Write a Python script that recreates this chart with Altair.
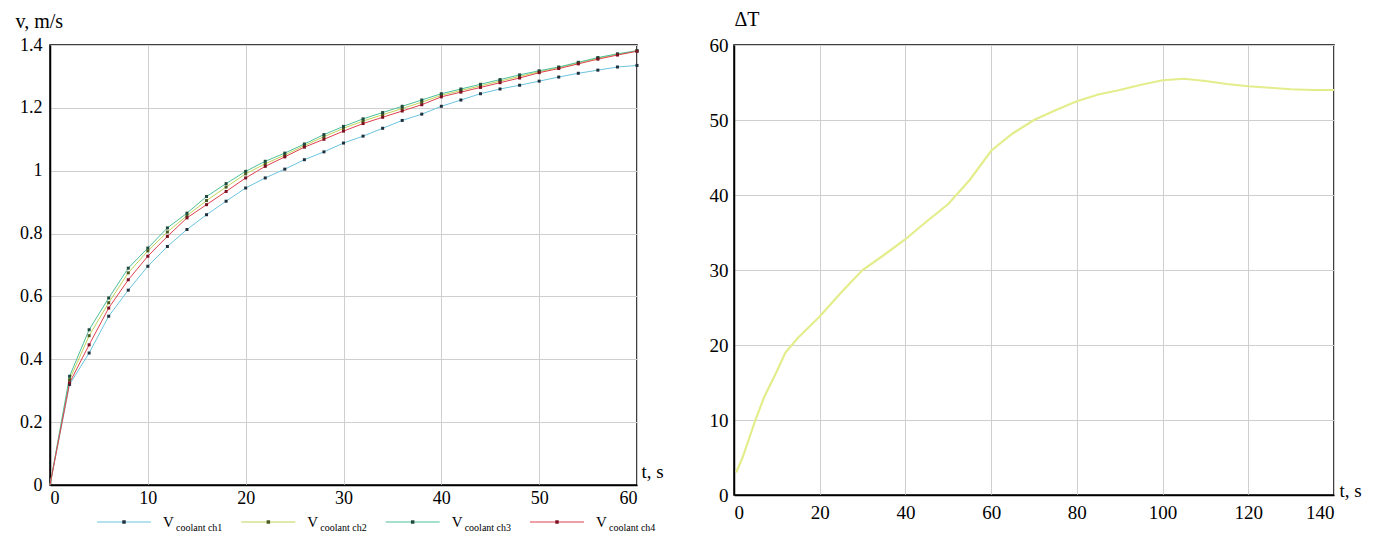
import altair as alt
import pandas as pd

# ---------------- data: left panel (coolant velocity) ----------------
t_v = [0, 2, 4, 6, 8, 10, 12, 14, 16, 18, 20, 22, 24, 26, 28, 30,
       32, 34, 36, 38, 40, 42, 44, 46, 48, 50, 52, 54, 56, 58, 60]
v_ch1 = [0, 0.320, 0.420, 0.537, 0.620, 0.696, 0.759, 0.813, 0.860, 0.903, 0.945,
         0.977, 1.005, 1.035, 1.060, 1.088, 1.110, 1.135, 1.160, 1.180, 1.205,
         1.225, 1.245, 1.260, 1.272, 1.285, 1.298, 1.310, 1.320, 1.330, 1.335]
v_ch2 = [0, 0.335, 0.475, 0.580, 0.675, 0.745, 0.805, 0.857, 0.905, 0.948, 0.990,
         1.022, 1.050, 1.080, 1.108, 1.135, 1.158, 1.178, 1.198, 1.218, 1.240,
         1.255, 1.270, 1.285, 1.300, 1.315, 1.328, 1.343, 1.358, 1.370, 1.381]
v_ch3 = [0, 0.346, 0.494, 0.595, 0.690, 0.754, 0.818, 0.865, 0.918, 0.959, 0.998,
         1.030, 1.056, 1.085, 1.115, 1.141, 1.165, 1.185, 1.205, 1.225, 1.245,
         1.260, 1.275, 1.290, 1.305, 1.318, 1.330, 1.345, 1.360, 1.372, 1.382]
v_ch4 = [0, 0.325, 0.446, 0.563, 0.653, 0.728, 0.791, 0.850, 0.892, 0.934, 0.977,
         1.014, 1.044, 1.075, 1.100, 1.126, 1.150, 1.170, 1.190, 1.210, 1.235,
         1.250, 1.265, 1.280, 1.295, 1.312, 1.325, 1.340, 1.355, 1.368, 1.380]
series_names = ["V coolant ch1", "V coolant ch2", "V coolant ch3", "V coolant ch4"]
series_sub = ["coolant ch1", "coolant ch2", "coolant ch3", "coolant ch4"]
line_colors = ["#6cc4de", "#c2d35a", "#4dbf9c", "#e0404f"]
marker_colors = ["#1f2f3c", "#4a5a20", "#1f4a3c", "#7a1020"]
marker_sizes = [9, 9, 9, 18]

x_left_major = [0, 10, 20, 30, 40, 50, 60]
y_left_major = [0, 0.2, 0.4, 0.6, 0.8, 1.0, 1.2, 1.4]

# ---------------- data: right panel (temperature difference) ----------------
t_dT = [0.5, 2, 5, 7, 10, 12, 15, 20, 25, 30, 35, 40, 45, 50, 55, 60, 65, 70,
        75, 80, 85, 90, 95, 100, 105, 110, 115, 120, 125, 130, 135, 140]
dT = [3.0, 5.0, 10.0, 13.0, 16.5, 19.0, 21.0, 23.8, 27.0, 30.0, 32.0, 34.1,
      36.5, 38.8, 42.0, 45.9, 48.2, 50.0, 51.3, 52.5, 53.4, 54.0, 54.7, 55.3,
      55.5, 55.2, 54.8, 54.5, 54.3, 54.1, 54.0, 54.0]
x_right_major = [0, 20, 40, 60, 80, 100, 120, 140]
y_right_major = [0, 10, 20, 30, 40, 50, 60]

FONT = "Liberation Serif"

# ---------------- left panel ----------------
W1, H1 = 587, 440
rows = []
for name, vals in zip(series_names, [v_ch1, v_ch2, v_ch3, v_ch4]):
    for t, v in zip(t_v, vals):
        rows.append({"t": t, "v": v, "series": name})
df_v = pd.DataFrame(rows)

xs1 = alt.Scale(domain=[0, 60], nice=False, zero=False)
ys1 = alt.Scale(domain=[0, 1.4], nice=False)
line_scale = alt.Scale(domain=series_names, range=line_colors)
marker_scale = alt.Scale(domain=series_names, range=marker_colors)

line1 = alt.Chart(df_v).mark_line(strokeWidth=1).encode(
    x=alt.X("t:Q", scale=xs1, axis=alt.Axis(
        values=x_left_major, format="~g", title="t, s", titleAngle=0,
        titleX=W1 + 4, titleY=-8, titleAlign="left", titleBaseline="alphabetic",
        labelFontSize=18, titleFontSize=19, grid=True, labelPadding=4)),
    y=alt.Y("v:Q", scale=ys1, axis=alt.Axis(
        values=y_left_major, format="~g", title="v, m/s", titleAngle=0,
        titleX=-35, titleY=-18, titleAlign="left", titleBaseline="alphabetic",
        labelFontSize=18, titleFontSize=20, grid=True, labelPadding=8)),
    color=alt.Color("series:N", scale=line_scale, legend=None),
)

pts1 = alt.Chart(df_v).transform_filter("datum.t > 0").mark_point(
    shape="square", filled=True, opacity=1).encode(
    x=alt.X("t:Q", scale=xs1),
    y=alt.Y("v:Q", scale=ys1),
    fill=alt.Fill("series:N", scale=marker_scale, legend=None),
    size=alt.Size("series:N", scale=alt.Scale(domain=series_names, range=marker_sizes), legend=None),
)

left_plot = alt.layer(line1, pts1).properties(width=W1, height=H1)

# ---- legend row under the left panel ----
leg_df = pd.DataFrame({"series": series_names, "sub": series_sub})
leg_x = alt.X("series:N", scale=alt.Scale(type="point", domain=series_names,
                                           range=[110, 543], padding=0), axis=None)
leg_base = alt.Chart(leg_df).encode(x=leg_x, y=alt.value(10))
leg_line = leg_base.mark_point(shape="M-1,0H1", size=2916, filled=False,
                               strokeWidth=1, opacity=1, xOffset=-36).encode(
    color=alt.Color("series:N", scale=line_scale, legend=None))
leg_dot = leg_base.mark_point(shape="square", filled=True, size=12, opacity=1,
                              xOffset=-36).encode(
    fill=alt.Fill("series:N", scale=marker_scale, legend=None))
leg_v = leg_base.mark_text(text="V", align="left", dx=3, fontSize=15, font=FONT,
                           color="black", baseline="middle")
leg_sub = leg_base.mark_text(align="left", dx=16, dy=6, fontSize=10, font=FONT,
                             color="black", baseline="middle").encode(text="sub:N")
legend_row = alt.layer(leg_line, leg_dot, leg_v, leg_sub).properties(
    width=W1, height=20, view={"stroke": "transparent"})

left = alt.vconcat(left_plot, legend_row, spacing=3)

# ---------------- right panel ----------------
W2, H2 = 600, 450
df_t = pd.DataFrame({"t": t_dT, "dT": dT})
xs2 = alt.Scale(domain=[0, 140], nice=False, zero=False)
ys2 = alt.Scale(domain=[0, 60], nice=False)

line2 = alt.Chart(df_t).mark_line(strokeWidth=2.2, color="#e4ed8c").encode(
    x=alt.X("t:Q", scale=xs2, axis=alt.Axis(
        values=x_right_major, format="d", title="t, s", titleAngle=0,
        titleX=W2 + 5, titleY=1, titleAlign="left", titleBaseline="alphabetic",
        labelFontSize=19, titleFontSize=19, grid=True, labelPadding=8)),
    y=alt.Y("dT:Q", scale=ys2, axis=alt.Axis(
        values=y_right_major, format="d", title="ΔT", titleAngle=0,
        titleX=0, titleY=-20, titleAlign="left", titleBaseline="alphabetic",
        labelFontSize=19, titleFontSize=20, grid=True, labelPadding=6)),
)

right = line2.properties(width=W2, height=H2)

chart = alt.hconcat(left, right, spacing=44).properties(
    padding={"left": 6, "top": 0, "right": 5, "bottom": 0}
).configure_view(
    stroke="black", strokeWidth=1.5
).configure_axis(
    ticks=False, domainColor="black", domainWidth=1.5,
    gridColor="#cfcfcf", gridWidth=1, labelFont=FONT, titleFont=FONT,
    labelColor="black", titleColor="black", titleFontWeight="normal",
    labelFontWeight="normal",
)

chart.save("out.html", embed_options={"renderer": "svg", "actions": False})
